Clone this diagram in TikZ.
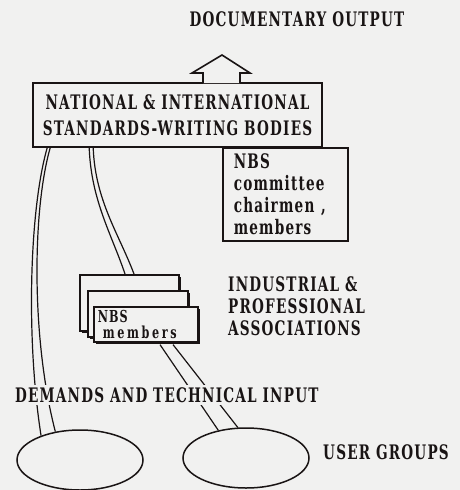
\documentclass[tikz,border=0pt]{standalone}
\usepackage{fontspec}
\usepackage{tikz}
\usetikzlibrary{positioning, shapes.geometric, calc, shadows}
\newfontfamily\diafont{DejaVu Serif}[FakeStretch=0.68, LetterSpace=6]
\definecolor{pgBack}{RGB}{241, 241, 240}
\definecolor{pgInk}{RGB}{25, 20, 20}
\tikzset{
    base/.style={
        font=\diafont\bfseries\fontsize{20}{22}\selectfont,
        text=pgInk,
        inner sep=0pt
    },
    plate/.style={
        base,
        rectangle,
        draw=pgInk,
        line width=1.6pt,
        fill=pgBack
    },
    stackbox/.style={
        plate,
        anchor=north west,
        drop shadow={opacity=1, fill=pgInk, shadow xshift=2.5pt, shadow yshift=-2.5pt}
    },
    usergroup/.style={
        ellipse,
        draw=pgInk,
        line width=1.5pt,
        minimum width=126pt,
        minimum height=60pt,
        inner sep=0pt
    },
    outarrow/.style={
        draw=pgInk,
        line width=1.6pt,
        fill=pgBack
    },
    wire/.style={
        draw=pgInk,
        line width=1.2pt
    },
    caption/.style={
        base,
        anchor=west,
        align=left
    }
}

\begin{document}
\begin{tikzpicture}[x=1pt, y=-1pt]
  \fill[pgBack] (0,0) rectangle (460,490);
  \useasboundingbox (0,0) rectangle (460,490);

  % Output
  \node[base] (title) at (297,19) {DOCUMENTARY OUTPUT};

  % Standards bodies
  \node[plate, minimum width=289pt, minimum height=64pt, align=center,
        font=\diafont\bfseries\fontsize{20}{26}\selectfont] (natl) at (177.5,115)
        {NATIONAL \& INTERNATIONAL\\STANDARDS-WRITING BODIES};
  \draw[outarrow] (203,83) -- (203,73) -- (192,73) -- (222,55) -- (250,73) -- (240,73) -- (240,83);

  % NBS committee
  \node[plate, anchor=north west, text width=103pt, inner xsep=11pt, inner ysep=6pt,
        minimum height=93pt, align=left] (nbs) at (222,147)
        {NBS\\committee\\chairmen ,\\members};

  % Associations
  \node[stackbox, minimum width=99pt, minimum height=56pt] (back) at (79,274) {};
  \node[stackbox, minimum width=100pt, minimum height=46pt] (mid) at (87,290) {};
  \node[stackbox, minimum height=35pt, text width=96pt, inner xsep=4pt, inner ysep=2pt, align=left,
        font=\diafont\bfseries\fontsize{16.5}{16.5}\selectfont] (front) at (93,306)
        {NBS\\\hspace{5pt}{\addfontfeatures{LetterSpace=16}members}};
  \node[caption] (assoc) at (228,306) {INDUSTRIAL \&\\PROFESSIONAL\\ASSOCIATIONS};

  % User groups
  \node[usergroup] (ugl) at (80,460) {};
  \node[usergroup] (ugr) at (246,458) {};
  \node[caption] (users) at (323,452) {USER GROUPS};

  % Connectors
  \coordinate (la) at ($(natl.south west)+(15,0)$);
  \coordinate (lb) at ($(natl.south west)+(18,0)$);
  \coordinate (ma) at ($(natl.south west)+(57,0)$);
  \coordinate (mb) at ($(natl.south west)+(61,0)$);
  \coordinate (mc) at ($(back.north west)+(46,0)$);
  \coordinate (md) at ($(back.north west)+(55,0)$);
  \coordinate (fa) at ($(front.south west)+(67,2)$);
  \coordinate (fb) at ($(front.south west)+(80,2)$);
  \draw[wire] (la) .. controls +(-18,63) and +(-15,-96) .. (ugl.148);
  \draw[wire] (lb) .. controls +(-18,63) and +(-24,-92) .. (ugl.131);
  \draw[wire] (ma) .. controls +(2,53) and +(-13,-39) .. (mc);
  \draw[wire] (mb) .. controls +(2,53) and +(-15,-40) .. (md);
  \draw[wire] (fa) -- (ugr.135);
  \draw[wire] (fb) -- (ugr.105);

  \node[caption, fill=pgBack, inner sep=2pt] (demands) at (13,395) {DEMANDS AND TECHNICAL INPUT};
\end{tikzpicture}
\end{document}
